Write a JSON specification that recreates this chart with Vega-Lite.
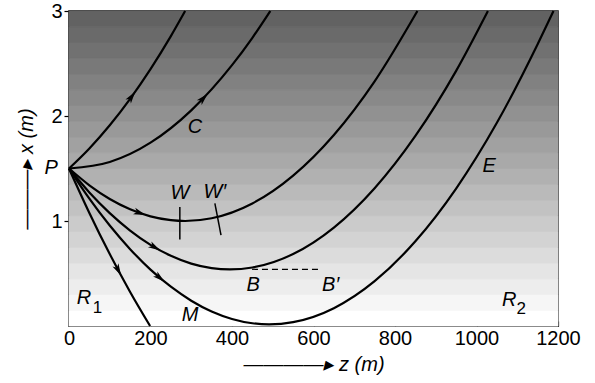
{
  "$schema": "https://vega.github.io/schema/vega-lite/v6.json",
  "width": 489,
  "height": 315,
  "autosize": "none",
  "padding": {"left": 69, "top": 11, "right": 37, "bottom": 57},
  "config": {
    "font": "Liberation Sans",
    "view": {"stroke": "black", "strokeWidth": 1.5}
  },
  "datasets": {
    "bands": [
      {"lo": 0.00, "hi": 0.15, "g": 0}, {"lo": 0.15, "hi": 0.30, "g": 1},
      {"lo": 0.30, "hi": 0.45, "g": 2}, {"lo": 0.45, "hi": 0.60, "g": 3},
      {"lo": 0.60, "hi": 0.75, "g": 4}, {"lo": 0.75, "hi": 0.90, "g": 5},
      {"lo": 0.90, "hi": 1.05, "g": 6}, {"lo": 1.05, "hi": 1.20, "g": 7},
      {"lo": 1.20, "hi": 1.35, "g": 8}, {"lo": 1.35, "hi": 1.50, "g": 9},
      {"lo": 1.50, "hi": 1.65, "g": 10}, {"lo": 1.65, "hi": 1.80, "g": 11},
      {"lo": 1.80, "hi": 1.95, "g": 12}, {"lo": 1.95, "hi": 2.10, "g": 13},
      {"lo": 2.10, "hi": 2.25, "g": 14}, {"lo": 2.25, "hi": 2.40, "g": 15},
      {"lo": 2.40, "hi": 2.55, "g": 16}, {"lo": 2.55, "hi": 2.70, "g": 17},
      {"lo": 2.70, "hi": 2.85, "g": 18}, {"lo": 2.85, "hi": 3.00, "g": 19}
    ],
    "rays": [
      {"ray": "A", "z": 0, "x": 1.5}, {"ray": "A", "z": 50, "x": 1.691}, {"ray": "A", "z": 100, "x": 1.912},
      {"ray": "A", "z": 150, "x": 2.164}, {"ray": "A", "z": 200, "x": 2.447}, {"ray": "A", "z": 250, "x": 2.761},
      {"ray": "A", "z": 285, "x": 3.0},
      {"ray": "C", "z": 0, "x": 1.5}, {"ray": "C", "z": 100, "x": 1.562}, {"ray": "C", "z": 200, "x": 1.746},
      {"ray": "C", "z": 300, "x": 2.054}, {"ray": "C", "z": 400, "x": 2.484}, {"ray": "C", "z": 450, "x": 2.745},
      {"ray": "C", "z": 494, "x": 3.0},
      {"ray": "W", "z": 0, "x": 1.5}, {"ray": "W", "z": 50, "x": 1.340}, {"ray": "W", "z": 100, "x": 1.210},
      {"ray": "W", "z": 150, "x": 1.112}, {"ray": "W", "z": 200, "x": 1.044}, {"ray": "W", "z": 250, "x": 1.008},
      {"ray": "W", "z": 285, "x": 1.0}, {"ray": "W", "z": 350, "x": 1.026}, {"ray": "W", "z": 450, "x": 1.167},
      {"ray": "W", "z": 550, "x": 1.432}, {"ray": "W", "z": 650, "x": 1.819}, {"ray": "W", "z": 750, "x": 2.330},
      {"ray": "W", "z": 855, "x": 3.0},
      {"ray": "B", "z": 0, "x": 1.5}, {"ray": "B", "z": 50, "x": 1.272}, {"ray": "B", "z": 100, "x": 1.075},
      {"ray": "B", "z": 150, "x": 0.909}, {"ray": "B", "z": 200, "x": 0.773}, {"ray": "B", "z": 250, "x": 0.669},
      {"ray": "B", "z": 300, "x": 0.594}, {"ray": "B", "z": 350, "x": 0.551}, {"ray": "B", "z": 395, "x": 0.539},
      {"ray": "B", "z": 450, "x": 0.557}, {"ray": "B", "z": 550, "x": 0.685}, {"ray": "B", "z": 650, "x": 0.937},
      {"ray": "B", "z": 750, "x": 1.312}, {"ray": "B", "z": 850, "x": 1.810}, {"ray": "B", "z": 950, "x": 2.430},
      {"ray": "B", "z": 1028, "x": 3.0},
      {"ray": "E", "z": 0, "x": 1.5}, {"ray": "E", "z": 50, "x": 1.213}, {"ray": "E", "z": 100, "x": 0.957},
      {"ray": "E", "z": 150, "x": 0.732}, {"ray": "E", "z": 200, "x": 0.537}, {"ray": "E", "z": 250, "x": 0.374},
      {"ray": "E", "z": 300, "x": 0.241}, {"ray": "E", "z": 350, "x": 0.138}, {"ray": "E", "z": 400, "x": 0.067},
      {"ray": "E", "z": 450, "x": 0.026}, {"ray": "E", "z": 491, "x": 0.016}, {"ray": "E", "z": 550, "x": 0.037},
      {"ray": "E", "z": 650, "x": 0.170}, {"ray": "E", "z": 750, "x": 0.427}, {"ray": "E", "z": 850, "x": 0.807},
      {"ray": "E", "z": 950, "x": 1.309}, {"ray": "E", "z": 1050, "x": 1.935}, {"ray": "E", "z": 1150, "x": 2.684},
      {"ray": "E", "z": 1189, "x": 3.0},
      {"ray": "S", "z": 0, "x": 1.5}, {"ray": "S", "z": 50, "x": 1.077}, {"ray": "S", "z": 100, "x": 0.685},
      {"ray": "S", "z": 150, "x": 0.324}, {"ray": "S", "z": 199, "x": 0.0}
    ],
    "heads": [
      {"ray": "A", "z": 154, "x": 2.186, "dir": -54},
      {"ray": "C", "z": 330, "x": 2.170, "dir": -46},
      {"ray": "W", "z": 174, "x": 1.076, "dir": 19},
      {"ray": "B", "z": 211, "x": 0.748, "dir": 30},
      {"ray": "E", "z": 223, "x": 0.458, "dir": 40},
      {"ray": "S", "z": 121, "x": 0.530, "dir": 62}
    ],
    "marks": [
      {"name": "W", "z": 272, "zEnd": 272, "x": 1.134, "xEnd": 0.824},
      {"name": "W′", "z": 358, "zEnd": 373, "x": 1.167, "xEnd": 0.865}
    ],
    "level": [
      {"name": "BB′", "z": 449, "zEnd": 616, "x": 0.54}
    ],
    "labels": [
      {"label": "P", "z": -44, "x": 1.503},
      {"label": "C", "z": 309, "x": 1.897},
      {"label": "W", "z": 272, "x": 1.262},
      {"label": "W′", "z": 358, "x": 1.277},
      {"label": "E", "z": 1031, "x": 1.525},
      {"label": "B", "z": 452, "x": 0.388},
      {"label": "B′", "z": 642, "x": 0.388},
      {"label": "M", "z": 297, "x": 0.102},
      {"label": "R", "z": 37, "x": 0.265},
      {"label": "R", "z": 1080, "x": 0.244}
    ],
    "subs": [
      {"label": "1", "z": 70, "x": 0.17},
      {"label": "2", "z": 1110, "x": 0.165}
    ]
  },
  "layer": [
    {
      "data": {"name": "bands"},
      "mark": {"type": "rect", "strokeWidth": 0.8},
      "encoding": {
        "y": {"field": "lo", "type": "quantitative", "scale": {"domain": [0, 3], "nice": false}},
        "y2": {"field": "hi"},
        "color": {"field": "g", "type": "quantitative", "scale": {"domain": [0, 19], "range": ["#ffffff", "#626262"]}, "legend": null},
        "stroke": {"field": "g", "type": "quantitative", "scale": {"domain": [0, 19], "range": ["#ffffff", "#626262"]}, "legend": null}
      }
    },
    {
      "data": {"name": "rays"},
      "mark": {"type": "line", "color": "black", "strokeWidth": 2.2, "interpolate": "monotone"},
      "encoding": {
        "x": {
          "field": "z", "type": "quantitative",
          "scale": {"domain": [0, 1200], "nice": false, "zero": false},
          "axis": {
            "values": [0, 200, 400, 600, 800, 1000, 1200], "format": "d",
            "grid": false, "domain": false,
            "tickSize": -5, "tickColor": "black", "tickWidth": 1.2,
            "labelFontSize": 20, "labelColor": "black", "labelPadding": 7,
            "labelFlush": false, "labelOverlap": false,
            "title": "————▸ z (m)", "titleFontSize": 20, "titleFontWeight": "normal",
            "titleFontStyle": "italic", "titleColor": "black", "titlePadding": 6
          }
        },
        "y": {
          "field": "x", "type": "quantitative",
          "scale": {"domain": [0, 3], "nice": false},
          "axis": {
            "values": [1, 2, 3], "format": "d",
            "grid": false, "domain": false,
            "tickSize": 5, "tickColor": "black", "tickWidth": 1.2,
            "labelFontSize": 20, "labelColor": "black", "labelPadding": 2,
            "labelFlush": false, "labelOverlap": false,
            "title": "———▸ x (m)", "titleFontSize": 20, "titleFontWeight": "normal",
            "titleFontStyle": "italic", "titleColor": "black", "titlePadding": 14
          }
        },
        "detail": {"field": "ray"}
      }
    },
    {
      "data": {"name": "level"},
      "mark": {"type": "rule", "color": "black", "strokeWidth": 1.2, "strokeDash": [6, 4]},
      "encoding": {
        "x": {"field": "z", "type": "quantitative"},
        "x2": {"field": "zEnd"},
        "y": {"field": "x", "type": "quantitative"}
      }
    },
    {
      "data": {"name": "marks"},
      "mark": {"type": "rule", "color": "black", "strokeWidth": 1.5},
      "encoding": {
        "x": {"field": "z", "type": "quantitative"},
        "x2": {"field": "zEnd"},
        "y": {"field": "x", "type": "quantitative"},
        "y2": {"field": "xEnd"}
      }
    },
    {
      "data": {"name": "heads"},
      "mark": {"type": "point", "filled": true, "color": "black", "opacity": 1, "size": 150, "shape": "M1,0L-1,-0.55L-0.5,0L-1,0.55Z"},
      "encoding": {
        "x": {"field": "z", "type": "quantitative"},
        "y": {"field": "x", "type": "quantitative"},
        "angle": {"field": "dir", "type": "quantitative", "scale": null}
      }
    },
    {
      "data": {"name": "labels"},
      "mark": {"type": "text", "fontSize": 20, "fontStyle": "italic", "color": "black", "align": "center", "baseline": "middle", "clip": false},
      "encoding": {
        "x": {"field": "z", "type": "quantitative"},
        "y": {"field": "x", "type": "quantitative"},
        "text": {"field": "label"}
      }
    },
    {
      "data": {"name": "subs"},
      "mark": {"type": "text", "fontSize": 17, "color": "black", "align": "center", "baseline": "middle"},
      "encoding": {
        "x": {"field": "z", "type": "quantitative"},
        "y": {"field": "x", "type": "quantitative"},
        "text": {"field": "label"}
      }
    }
  ]
}
